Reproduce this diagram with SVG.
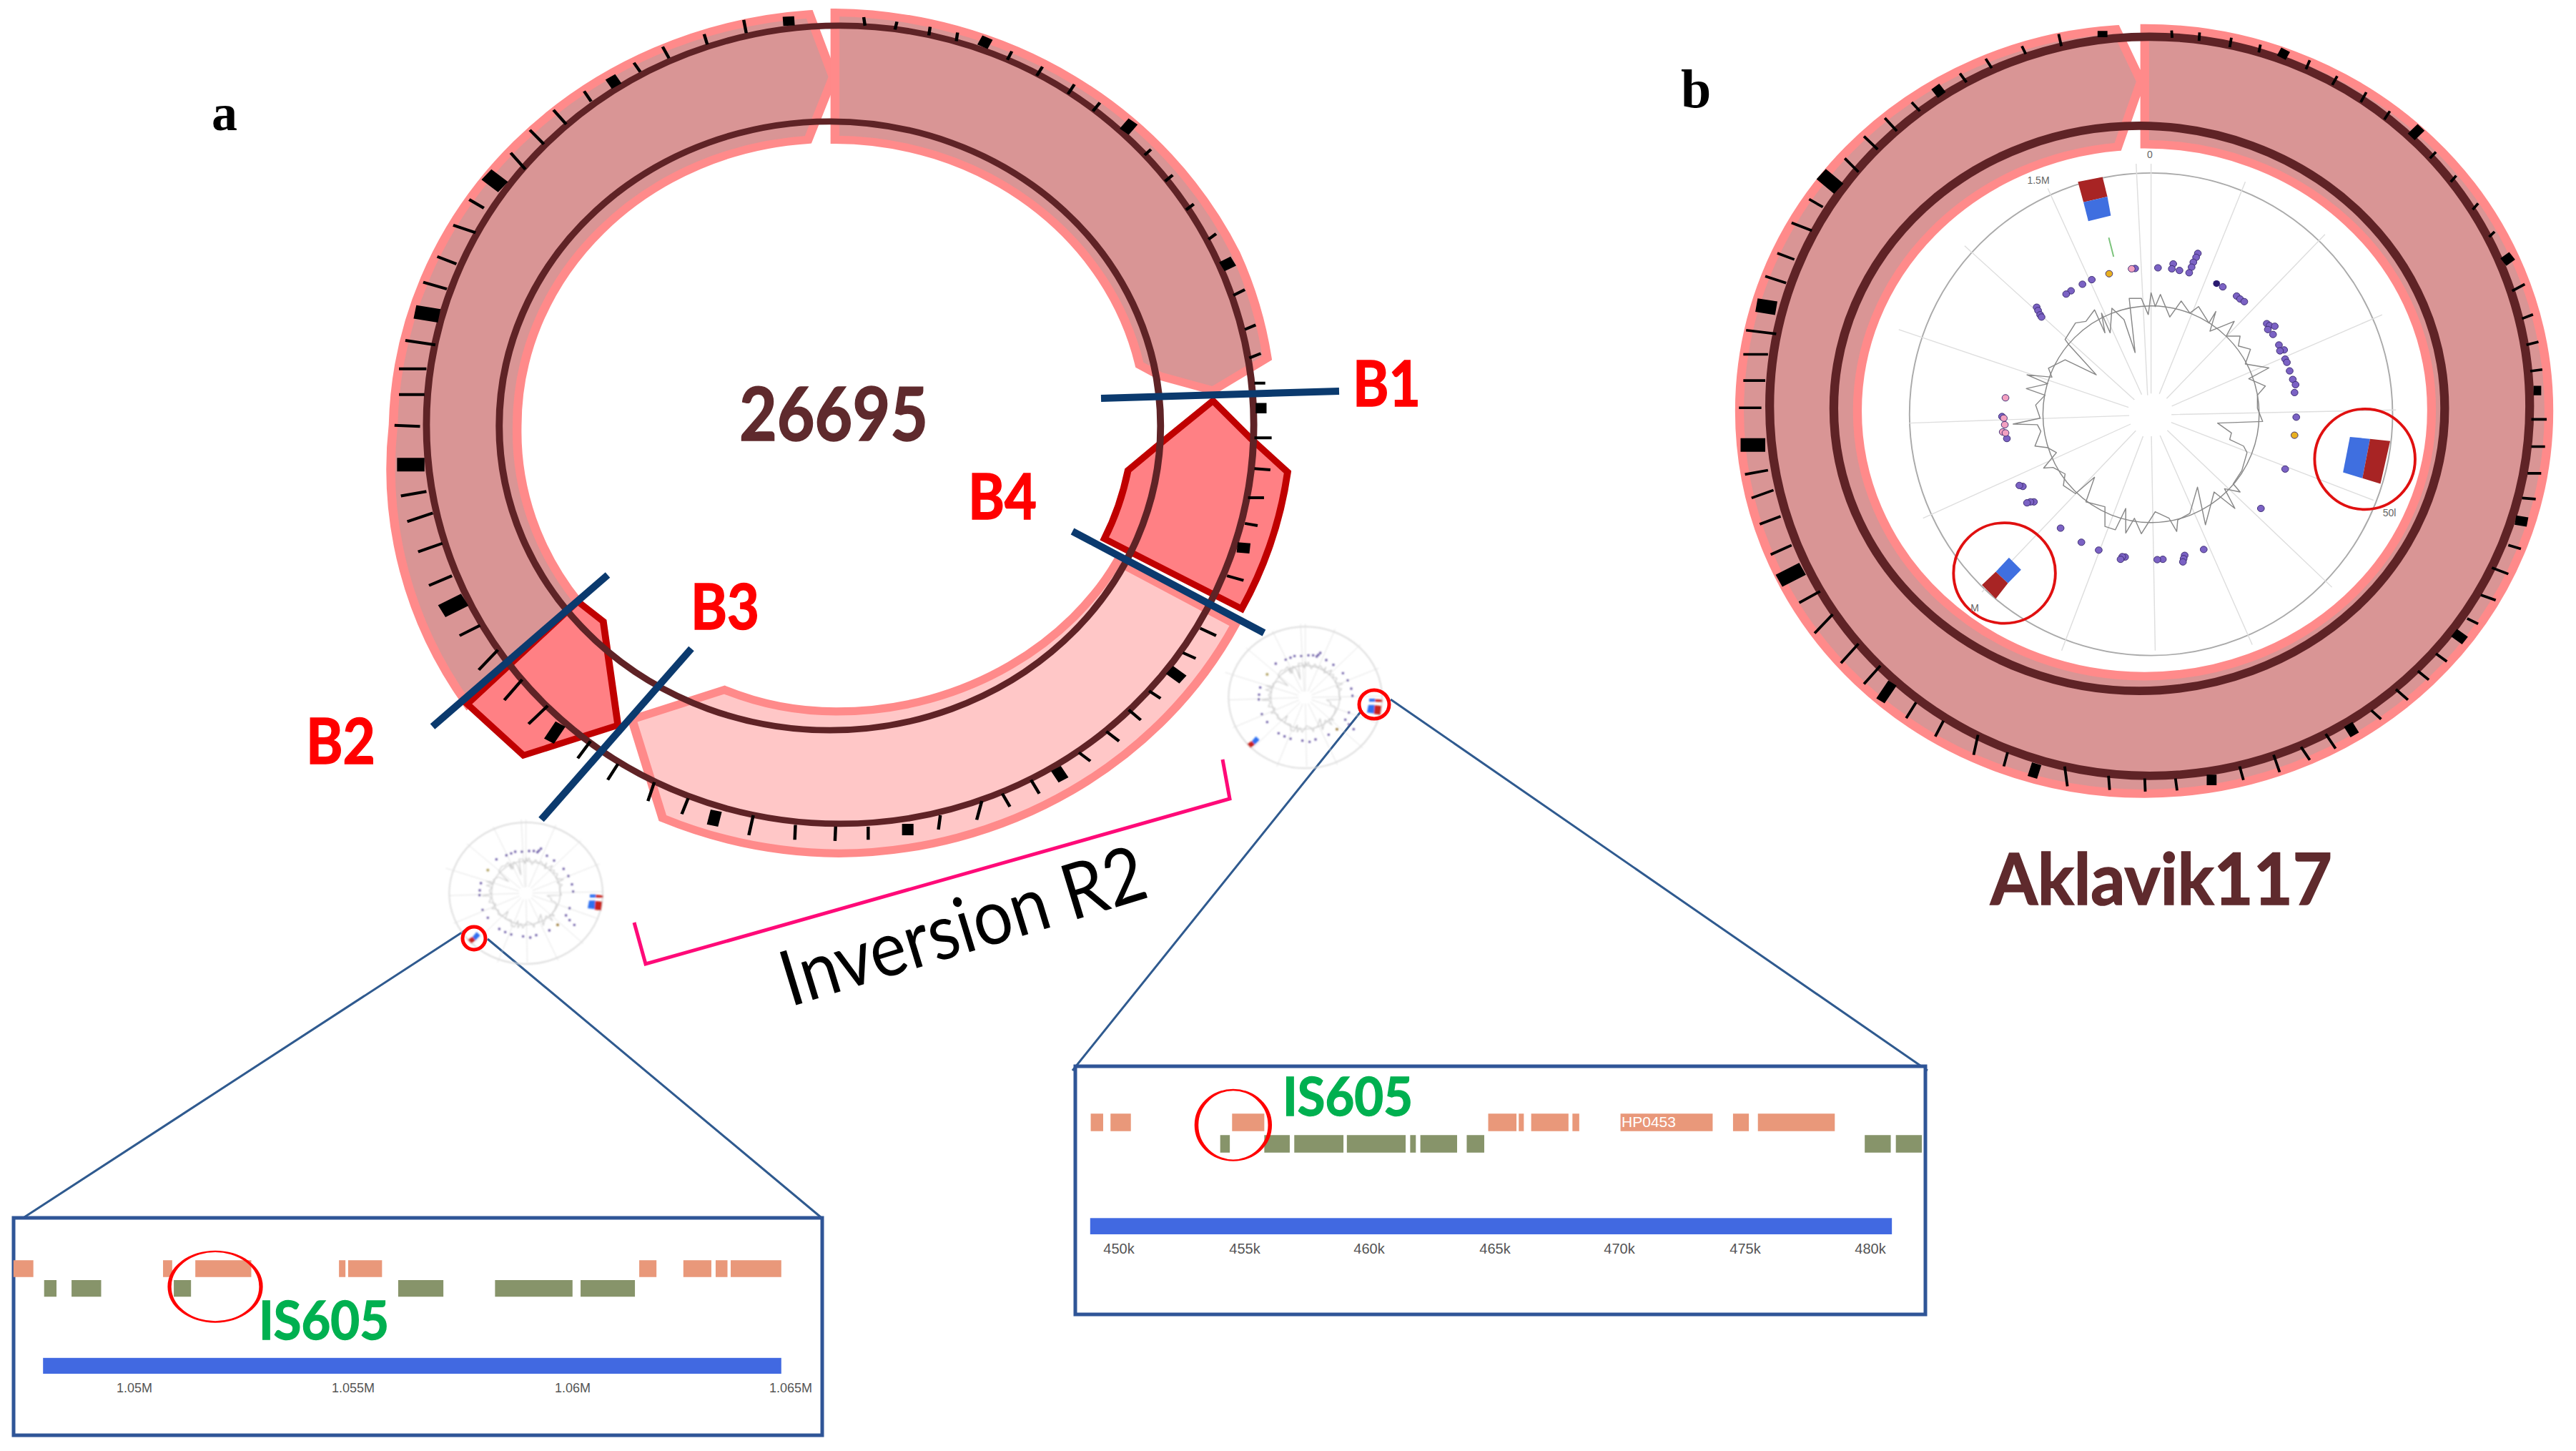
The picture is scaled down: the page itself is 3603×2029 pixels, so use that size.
<svg xmlns="http://www.w3.org/2000/svg" xmlns:xlink="http://www.w3.org/1999/xlink" width="3603" height="2029" viewBox="0 0 3603 2029">
<style>
text{font-family:Lato,"Noto Sans","Liberation Sans",sans-serif}
.lbl{font-weight:700;fill:#ff0000;stroke:#ff0000;stroke-width:1.6}
.name{font-weight:700;fill:#5f2a2d;stroke:#5f2a2d;stroke-width:1.6}
.is{font-weight:700;fill:#00b050;stroke:#00b050;stroke-width:1.4}
.axis{font-family:"Liberation Sans",sans-serif;fill:#555;text-anchor:middle}
.mark{font-family:"Liberation Sans",sans-serif;fill:#666;text-anchor:middle;font-size:14px}
.blk{fill:#d99595;stroke:#ff8a8a;stroke-width:14;stroke-linejoin:miter}
.pnk{fill:#ffc7c7;stroke:#ff8a8a;stroke-width:14}
.hot{fill:#ff8084;stroke:#c00000;stroke-width:11}
.dk{fill:none;stroke:#5f2326;stroke-width:11}
.tk{fill:none;stroke:#000;stroke-width:5}
.bk{fill:none;stroke:#000}
.cut{stroke:#0b3a6e;stroke-width:10;fill:none}
.zl{stroke:#2f5a8f;stroke-width:3;fill:none}
.box{fill:#fff;stroke:#2f5597;stroke-width:5}
.or{fill:#e9987a}
.gr{fill:#87946a}
.bar{fill:#4169e1}
.ring{fill:none;stroke:red;stroke-width:5}
.sp{stroke:#dedede;stroke-width:var(--s,3);fill:none}
.tr{stroke:var(--c,#888);stroke-width:var(--t,3);fill:none;stroke-linejoin:round}
.d{fill:#7b62c4;stroke:#3a2a70;stroke-width:2}
.dp{fill:#f2a0c0;stroke:#3a2a70;stroke-width:2}
.dg{fill:#e8b020;stroke:#3a2a70;stroke-width:2}
.blue{fill:#3f6fe0}
.red{fill:#a82424}
</style>
<defs>
<filter id="soft" x="-5%" y="-5%" width="110%" height="110%"><feGaussianBlur stdDeviation="1.1"/></filter>
<g id="core">
<path class="sp" d="M678,85L678,785M635,85L668,790M380,160L651,788M140,335L630,804M-50,590L613,827M-20,875L615,852M20,1165L619,878M190,1390L634,898M420,1568L655,915M690,1568L679,915M970,1550L704,913M1200,1375L725,897M1320,1110L736,873M1385,835L737,849M1345,545L738,823M1180,300L723,800M950,140L702,786"/>
<ellipse class="tr" cx="678" cy="848" rx="312" ry="330"/>
<polyline class="tr" points="670,545 678,478 690,520 705,483 732,552 765,503 790,540 815,520 845,570 865,535 848,595 918,565 895,610 935,610 930,640 965,650 950,695 1018,707 960,740 1008,762 985,790 985,830 1000,870 870,875 910,905 905,925 945,945 955,965 940,1020 915,1060 935,1085 890,1075 920,1135 860,1085 835,1185 812,1070 790,1150 755,1170 752,1205 730,1165 690,1145 650,1212 630,1165 605,1210 605,1135 575,1200 545,1190 545,1130 490,1115 515,1040 460,1090 425,1065 430,1030 395,1010 368,1012 405,965 380,950 343,945 360,900 350,880 280,878 358,860 345,820 372,790 318,770 380,755 320,728 392,735 382,708 430,682 520,728 440,635 430,620 460,570 490,565 515,530 545,600 535,540 560,600 565,525 600,560 632,660 615,495 650,495 670,545"/>
</g>
<g id="mini" transform="scale(.33333)">
<ellipse cx="407" cy="357" rx="322" ry="297" fill="none" stroke="#ddd" stroke-width="6"/>
<use href="#core" transform="translate(407,357) scale(.462,.404) translate(-678,-850)" style="--s:6;--t:8;--c:#ccc"/>
<path fill="none" stroke="#5b4a9c" stroke-width="10" stroke-linecap="round" d="M470,170h0M462,178h0M455,185h0M440,180h0M420,180h0M390,183h0M362,183h0M345,190h0M325,198h0M283,215h0M495,200h0M525,220h0M565,255h0M585,285h0M600,320h0M605,350h0M590,420h0M575,450h0M590,470h0M610,490h0M505,513h0M450,533h0M425,543h0M395,538h0M345,530h0M320,520h0M295,507h0M247,460h0M225,427h0M212,365h0M213,345h0M218,315h0"/>
<circle cx="540" cy="490" r="6" fill="#a08040"/><circle cx="247" cy="260" r="6" fill="#b0a060"/>
<path fill="#2f6ff0" d="M672,388L698,388L695,424L666,420ZM675,362L700,362L700,375L675,375Z"/>
<path fill="#c8201c" d="M698,390L727,392L722,430L695,426ZM700,364L730,366L730,376L700,375Z"/>
<path fill="#2f6ff0" d="M200,520L215,535L195,555L183,540Z"/>
<path fill="#c8201c" d="M183,540L195,555L178,568L163,552Z"/>
</g>
</defs>

<g id="ring-26695" transform="translate(500,0) scale(.8929,.7972)">
<path class="blk" d="M708,25A704,739 0 0 0 56,745A704,739 0 0 0 172,1235L345,1055A490,503 0 0 1 250,748A490,503 0 0 1 706,245L745,135Z"/>
<path class="blk" d="M748,22A704,739 0 0 1 1376,445A704,739 0 0 1 1425,628L1340,685L1258,660L1225,640A490,503 0 0 0 748,245Z"/>
<path class="pnk" d="M1190,985C1120,1120 960,1248 750,1248C690,1248 630,1235 575,1210L430,1262L478,1435A704,739 0 0 0 754,1497A704,739 0 0 0 1375,1095Z"/>
<path class="hot" d="M1340,703L1400,770L1457,828A704,739 0 0 1 1385,1068L1170,945Q1195,890 1207,825L1250,785Z"/>
<path class="hot" d="M345,1055L385,1090L408,1272L260,1325L172,1235Z"/>
<ellipse class="dk" cx="756" cy="745" rx="648" ry="700"/>
<ellipse class="dk" cx="740" cy="747" rx="518" ry="534"/>
<path class="tk" d="M605,35L609,58M543,60L548,78M478,82L488,102M433,110L443,126M355,160L366,178M307,193L327,218M270,228L292,253M240,268L263,297M175,350L198,365M150,395L185,408M125,450L155,463M103,495L140,507M75,597L122,605M65,647L108,647M65,692L105,692M58,746L98,748M68,870L108,862M78,915L118,900M95,968L133,953M112,1027L148,1010M160,1115L192,1097M190,1175L220,1140M230,1228L258,1192M268,1270L298,1238M345,1330L365,1300M392,1368L408,1340M455,1405L465,1372M508,1428L518,1400M613,1465L620,1430M685,1473L686,1447M748,1475L749,1450M800,1473L800,1450M910,1455L913,1430M970,1438L978,1405M1022,1415L1010,1392M1068,1392L1055,1368M1148,1335L1130,1320M1193,1300L1173,1283M1227,1263L1208,1245M1258,1225L1240,1212M1313,1155L1293,1145M1345,1115L1320,1102M1388,1018L1362,1010M1410,922L1390,918M1420,873L1395,873M1430,824L1405,822M1432,768L1405,768M1422,672L1405,672M793,30L795,45M845,38L842,52M897,47L895,62M940,57L938,72M1025,90L1018,105M1073,117L1064,133M1123,148L1113,165M1163,180L1152,195M1243,262L1233,272M1277,307L1265,318M1310,358L1298,368M1345,410L1333,420M1390,508L1372,518M1407,570L1390,578M1415,620L1397,628"/>
<path class="bk" stroke-width="18" d="M675,29L676,45M396,135L406,151M300,1300L318,1270M556,1448L562,1422M862,1465L862,1445M1106,1368L1094,1348M1293,1192L1272,1175M1398,962L1378,960M1424,716L1407,716M987,66L979,82M1215,213L1201,231M1372,458L1354,468"/>
<path class="bk" stroke-width="24" d="M202,306L228,328M90,547L128,554M62,815L105,815M132,1072L168,1052"/>
</g>

<g id="ring-aklavik" transform="translate(2400,0) scale(.767,.733)">
<path class="blk" style="stroke-width:16" d="M782,54A737,730 0 0 1 1519,784A737,730 0 0 1 780,1514A737,730 0 0 1 43,784A737,730 0 0 1 730,56L775,155L733,280A523,506 0 0 0 258,784A523,506 0 0 0 781,1290A523,506 0 0 0 1305,784A523,506 0 0 0 782,275Z"/>
<ellipse class="dk" style="stroke-width:16" cx="791" cy="775" rx="693" ry="705"/>
<ellipse class="dk" style="stroke-width:16" cx="772" cy="779" rx="557" ry="539"/>
<path class="tk" d="M831,58L832,72M882,62L881,78M940,72L937,90M993,85L990,100M1083,115L1076,132M1133,145L1124,162M1186,176L1176,195M1229,212L1219,228M1313,290L1302,302M1350,335L1340,347M1390,388L1380,400M1420,442L1410,452M1475,542L1452,555M1490,600L1470,608M1500,652L1478,658M1507,705L1485,708M1515,800L1487,800M1512,852L1487,852M1505,903L1480,903M1495,952L1470,950M1468,1047L1445,1040M1445,1095L1415,1083M1422,1145L1395,1135M1390,1190L1370,1180M1333,1262L1313,1247M1300,1297L1280,1280M1262,1335L1240,1315M1213,1372L1195,1355M1130,1428L1112,1400M1083,1450L1067,1425M1028,1473L1017,1440M962,1488L955,1462M841,1508L838,1485M783,1510L782,1485M718,1507L716,1480M641,1500L636,1462M525,1462L532,1435M470,1440L478,1402M400,1405L415,1375M347,1370L365,1340M270,1305L300,1270M228,1265L260,1228M180,1208L213,1172M152,1150L190,1128M100,1058L138,1040M80,1000L118,985M65,950L105,935M53,905L95,897M42,778L83,778M50,726L90,726M50,676L95,676M55,630L110,637M90,527L128,540M112,483L143,495M138,425L175,440M170,380L195,395M235,302L260,328M270,260L295,285M308,225L330,250M357,195L372,212M445,140L457,157M492,112L503,130M558,88L565,103M625,65L630,88"/>
<path class="bk" stroke-width="18" d="M705,59L705,71M400,165L412,181M300,1337L322,1303M577,1483L585,1457M904,1498L904,1478M1165,1402L1153,1382M1366,1222L1346,1207M1480,996L1458,992M1505,745L1491,745M1452,488L1436,500M1286,243L1268,261M1039,95L1031,110"/>
<path class="bk" stroke-width="26" d="M192,332L224,360M74,582L110,588M45,849L90,849M115,1108L158,1085"/>
</g>

<g id="plot-aklavik" transform="translate(2680,190) scale(.4847,.459)">
<ellipse cx="678" cy="848" rx="697" ry="735" fill="none" stroke="#aaa" stroke-width="4"/>
<use href="#core"/>
<path stroke="#7ac27a" stroke-width="4" d="M556,310L570,368" fill="none"/>
<g class="d"><circle cx="813" cy="358" r="10"/><circle cx="808" cy="370" r="10"/><circle cx="800" cy="385" r="10"/><circle cx="795" cy="400" r="10"/><circle cx="788" cy="417" r="10"/><circle cx="742" cy="390" r="10"/><circle cx="738" cy="405" r="10"/><circle cx="760" cy="410" r="10"/><circle cx="698" cy="402" r="10"/><circle cx="632" cy="404" r="10"/><circle cx="507" cy="438" r="10"/><circle cx="480" cy="452" r="10"/><circle cx="447" cy="472" r="10"/><circle cx="433" cy="482" r="10"/><circle cx="348" cy="522" r="10"/><circle cx="352" cy="532" r="10"/><circle cx="358" cy="545" r="10"/><circle cx="362" cy="552" r="10"/><circle cx="885" cy="460" r="10"/><circle cx="925" cy="488" r="10"/><circle cx="935" cy="497" r="10"/><circle cx="947" cy="505" r="10"/><circle cx="1012" cy="572" r="10"/><circle cx="1020" cy="578" r="10"/><circle cx="1035" cy="580" r="10"/><circle cx="1015" cy="590" r="10"/><circle cx="1030" cy="605" r="10"/><circle cx="1047" cy="637" r="10"/><circle cx="1062" cy="652" r="10"/><circle cx="1050" cy="655" r="10"/><circle cx="1065" cy="680" r="10"/><circle cx="1070" cy="690" r="10"/><circle cx="1078" cy="716" r="10"/><circle cx="1087" cy="742" r="10"/><circle cx="1095" cy="758" r="10"/><circle cx="1092" cy="782" r="10"/><circle cx="1097" cy="857" r="10"/><circle cx="1065" cy="1015" r="10"/><circle cx="995" cy="1135" r="10"/><circle cx="830" cy="1260" r="10"/><circle cx="775" cy="1278" r="10"/><circle cx="772" cy="1288" r="10"/><circle cx="770" cy="1298" r="10"/><circle cx="712" cy="1290" r="10"/><circle cx="696" cy="1291" r="10"/><circle cx="603" cy="1283" r="10"/><circle cx="595" cy="1282" r="10"/><circle cx="590" cy="1290" r="10"/><circle cx="527" cy="1262" r="10"/><circle cx="477" cy="1238" r="10"/><circle cx="417" cy="1195" r="10"/><circle cx="340" cy="1115" r="10"/><circle cx="330" cy="1115" r="10"/><circle cx="320" cy="1118" r="10"/><circle cx="308" cy="1068" r="10"/><circle cx="298" cy="1065" r="10"/><circle cx="248" cy="855" r="10"/><circle cx="262" cy="922" r="10"/></g>
<g class="dp"><circle cx="622" cy="405" r="10"/><circle cx="258" cy="798" r="10"/><circle cx="253" cy="860" r="10"/><circle cx="256" cy="880" r="10"/><circle cx="250" cy="902" r="10"/><circle cx="258" cy="905" r="10"/></g>
<g class="dg"><circle cx="557" cy="420" r="10"/><circle cx="1092" cy="912" r="10"/></g>
<circle cx="867" cy="450" r="10" fill="#2a1a70"/>
<path class="red" d="M467,140L538,125L552,185L483,202Z"/>
<path class="blue" d="M483,202L552,185L562,243L497,260Z"/>
<path class="blue" d="M1252,917L1310,923L1288,1043L1232,1025Z"/>
<path class="red" d="M1310,923L1368,930L1340,1060L1288,1043Z"/>
<path class="blue" d="M268,1285L303,1322L265,1363L230,1328Z"/>
<path class="red" d="M230,1328L265,1363L230,1410L190,1368Z"/>
<ellipse cx="1295" cy="985" rx="145" ry="153" fill="none" stroke="#e01010" stroke-width="8"/>
<ellipse cx="255" cy="1332" rx="147" ry="153" fill="none" stroke="#e01010" stroke-width="8"/>
</g>
<g id="plot-labels">
<text class="mark" x="3007" y="221">0</text>
<text class="mark" x="2851" y="257">1.5M</text>
<text class="mark" x="3342" y="722">50l</text>
<text class="mark" x="2762" y="855">M</text>
</g>

<g id="connectors">
<path class="zl" d="M652,1300L34,1702M682,1313L1148,1702M1905,993L1500,1497M1945,978L2696,1497"/>
<path fill="none" stroke="#ff0a78" stroke-width="5" d="M887,1290L903,1348L1720,1117L1710,1062"/>
</g>

<g id="mini-left" filter="url(#soft)"><use href="#mini" transform="translate(600,1130)"/></g>
<g id="mini-right" filter="url(#soft)"><use href="#mini" transform="translate(1690,856.3)"/></g>
<g id="mini-rings">
<circle class="ring" cx="663" cy="1312" r="16"/>
<ellipse class="ring" cx="1922" cy="985" rx="21" ry="20"/>
</g>

<g id="breaks">
<path class="cut" d="M1540,557L1873,547"/>
<path class="cut" d="M1500,743L1768,885"/>
<path class="cut" d="M967,907L757,1146"/>
<path class="cut" d="M850,804L605,1016"/>
</g>

<g id="inset-left">
<rect class="box" x="19" y="1703" width="1131" height="304"/>
<g transform="translate(0,1680) scale(.7526,.3356)">
<path class="or" d="M25,245H62V315H25ZM303,245H320V315H303ZM363,245H467V315H363ZM630,245H642V315H630ZM647,245H710V315H647ZM1188,245H1220V315H1188ZM1270,245H1322V315H1270ZM1330,245H1352V315H1330ZM1358,245H1452V315H1358Z"/>
<path class="gr" d="M82,328H105V397H82ZM133,328H188V397H133ZM323,328H355V397H323ZM740,328H824V397H740ZM920,328H1064V397H920ZM1079,328H1180V397H1079Z"/>
<rect class="bar" x="80" y="652" width="1372" height="66"/>
<ellipse cx="400" cy="355" rx="85" ry="147" fill="none" stroke="red" stroke-width="7"/>
</g>
<text class="is" x="362" y="1873" font-size="74" textLength="182" lengthAdjust="spacingAndGlyphs">IS605</text>
<text class="axis" font-size="18" x="188" y="1947">1.05M</text><text class="axis" font-size="18" x="494" y="1947">1.055M</text><text class="axis" font-size="18" x="801" y="1947">1.06M</text><text class="axis" font-size="18" x="1106" y="1947">1.065M</text>
</g>

<g id="inset-right">
<rect class="box" x="1504" y="1491" width="1189" height="347"/>
<g transform="translate(1490,1480) scale(.7908,.3333)">
<path class="or" d="M45,232H67V305H45ZM80,232H116V305H80ZM295,232H352V305H295ZM748,232H798V305H748ZM802,232H811V305H802ZM824,232H890V305H824ZM897,232H909V305H897ZM982,232H1145V305H982ZM1181,232H1209V305H1181ZM1225,232H1361V305H1225Z"/>
<path class="gr" d="M274,322H291V395H274ZM352,322H397V395H352ZM405,322H492V395H405ZM498,322H602V395H498ZM610,322H620V395H610ZM628,322H693V395H628ZM710,322H741V395H710ZM1414,322H1460V395H1414ZM1469,322H1515V395H1469Z"/>
<rect class="bar" x="44" y="670" width="1418" height="68"/>
<ellipse cx="297" cy="280" rx="65" ry="148" fill="none" stroke="red" stroke-width="7"/>
</g>
<text class="is" x="1794" y="1560" font-size="74" textLength="182" lengthAdjust="spacingAndGlyphs">IS605</text>
<text x="2306" y="1576" font-size="21" fill="#fff" text-anchor="middle" style="font-family:'Liberation Sans',sans-serif">HP0453</text>
<text class="axis" font-size="20" x="1565" y="1753">450k</text><text class="axis" font-size="20" x="1741" y="1753">455k</text><text class="axis" font-size="20" x="1915" y="1753">460k</text><text class="axis" font-size="20" x="2091" y="1753">465k</text><text class="axis" font-size="20" x="2265" y="1753">470k</text><text class="axis" font-size="20" x="2441" y="1753">475k</text><text class="axis" font-size="20" x="2616" y="1753">480k</text>
</g>

<g id="labels">
<text x="296" y="182" font-size="72" font-weight="700" style="font-family:'Liberation Serif',serif">a</text>
<text x="2351" y="150" font-size="76" font-weight="700" style="font-family:'Liberation Serif',serif">b</text>
<text class="name" x="1034" y="616" font-size="104" textLength="264" lengthAdjust="spacingAndGlyphs">26695</text>
<text class="name" x="2784" y="1265" font-size="100" textLength="478" lengthAdjust="spacingAndGlyphs">Aklavik117</text>
<text class="lbl" x="1892" y="568" font-size="88" textLength="95" lengthAdjust="spacingAndGlyphs">B1</text>
<text class="lbl" x="1354" y="726" font-size="88" textLength="96" lengthAdjust="spacingAndGlyphs">B4</text>
<text class="lbl" x="966" y="880" font-size="88" textLength="96" lengthAdjust="spacingAndGlyphs">B3</text>
<text class="lbl" x="428" y="1068" font-size="88" textLength="97" lengthAdjust="spacingAndGlyphs">B2</text>
<text x="1105" y="1408" font-size="108" fill="#000" transform="rotate(-17 1105 1408)" textLength="528" lengthAdjust="spacingAndGlyphs">Inversion R2</text>
</g>
</svg>
